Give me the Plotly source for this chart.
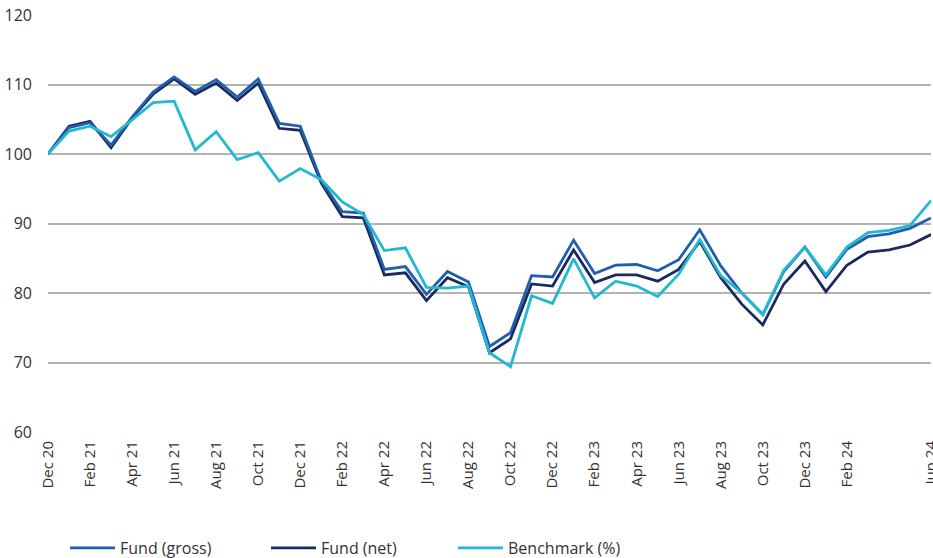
import plotly.graph_objects as go

# Monthly index values, rebased to 100 at Dec 2020
months = [
    "Dec 20",
    "Jan 21", "Feb 21", "Mar 21", "Apr 21", "May 21", "Jun 21",
    "Jul 21", "Aug 21", "Sep 21", "Oct 21", "Nov 21", "Dec 21",
    "Jan 22", "Feb 22", "Mar 22", "Apr 22", "May 22", "Jun 22",
    "Jul 22", "Aug 22", "Sep 22", "Oct 22", "Nov 22", "Dec 22",
    "Jan 23", "Feb 23", "Mar 23", "Apr 23", "May 23", "Jun 23",
    "Jul 23", "Aug 23", "Sep 23", "Oct 23", "Nov 23", "Dec 23",
    "Jan 24", "Feb 24", "Mar 24", "Apr 24", "May 24", "Jun 24",
]

fund_gross = [
    100.0,
    103.8, 104.5, 101.3, 105.3, 108.9, 111.1,
    109.0, 110.7, 108.2, 110.8, 104.4, 104.0,
    96.1, 91.7, 91.5, 83.4, 83.8, 79.8,
    83.1, 81.6, 72.3, 74.3, 82.5, 82.3,
    87.6, 82.8, 84.0, 84.1, 83.2, 84.8,
    89.1, 83.9, 80.0, 76.9, 83.1, 86.6,
    82.3, 86.3, 88.1, 88.5, 89.3, 90.8,
]

fund_net = [
    100.0,
    104.0, 104.7, 100.9, 105.2, 108.6, 110.8,
    108.6, 110.2, 107.7, 110.2, 103.7, 103.4,
    95.8, 91.0, 90.8, 82.6, 82.9, 78.9,
    82.2, 80.9, 71.4, 73.4, 81.3, 81.0,
    86.2, 81.5, 82.6, 82.6, 81.7, 83.4,
    87.4, 82.2, 78.4, 75.4, 81.3, 84.6,
    80.2, 84.0, 85.9, 86.2, 86.9, 88.4,
]

benchmark = [
    100.0,
    103.3, 104.0, 102.5, 104.9, 107.4, 107.6,
    100.6, 103.2, 99.2, 100.2, 96.1, 97.9,
    96.3, 93.1, 91.3, 86.1, 86.5, 80.8,
    80.7, 81.0, 71.4, 69.4, 79.6, 78.5,
    84.9, 79.3, 81.7, 81.0, 79.5, 82.7,
    87.7, 82.5, 80.0, 76.9, 83.3, 86.6,
    82.6, 86.6, 88.7, 89.0, 89.7, 93.3,
]

# Axis labels shown along the bottom
x_tick_labels = [
    "Dec 20", "Feb 21", "Apr 21", "Jun 21", "Aug 21", "Oct 21", "Dec 21",
    "Feb 22", "Apr 22", "Jun 22", "Aug 22", "Oct 22", "Dec 22",
    "Feb 23", "Apr 23", "Jun 23", "Aug 23", "Oct 23", "Dec 23",
    "Feb 24", "Jun 24",
]
y_tick_values = [60, 70, 80, 90, 100, 110, 120]

COL_GROSS = "#1f5fae"
COL_NET = "#1b2a5c"
COL_BENCH = "#22b8d1"
FONT = "Open Sans"
TEXT = "#333333"

fig = go.Figure()
fig.add_trace(go.Scatter(x=months, y=fund_net, mode="lines", name="Fund (net)",
                         line=dict(color=COL_NET, width=2.8), legend="legend2"))
fig.add_trace(go.Scatter(x=months, y=fund_gross, mode="lines", name="Fund (gross)",
                         line=dict(color=COL_GROSS, width=2.8), legend="legend"))
fig.add_trace(go.Scatter(x=months, y=benchmark, mode="lines", name="Benchmark (%)",
                         line=dict(color=COL_BENCH, width=2.8), legend="legend3"))

# One small legend per series so each entry sits at its own spot under the chart
legend_style = dict(orientation="h", yanchor="middle", xanchor="left",
                    y=-0.278, itemwidth=45,
                    font=dict(family=FONT, size=16, color=TEXT),
                    bgcolor="rgba(0,0,0,0)", borderwidth=0)

fig.update_layout(
    width=933, height=558,
    margin=dict(l=48, r=2, t=15, b=126, autoexpand=False),
    paper_bgcolor="white", plot_bgcolor="white",
    font=dict(family=FONT, size=15, color=TEXT),
    showlegend=True,
    legend=dict(x=0.0193, **legend_style),
    legend2=dict(x=0.2469, **legend_style),
    legend3=dict(x=0.4587, **legend_style),
    xaxis=dict(
        type="category",
        range=[0, len(months) - 1],
        tickmode="array", tickvals=x_tick_labels, ticktext=x_tick_labels,
        tickangle=-90, showgrid=False, zeroline=False, showline=False,
        ticks="", ticklabelstandoff=5,
        tickfont=dict(family=FONT, size=15, color=TEXT),
    ),
    yaxis=dict(
        range=[60, 120], tickvals=y_tick_values,
        showgrid=True, gridcolor="#b3b3b3", gridwidth=1.5,
        zeroline=False, showline=False, ticks="",
        ticklabelstandoff=15,
        tickfont=dict(family=FONT, size=16, color=TEXT),
    ),
)

fig.write_html("out.html")
